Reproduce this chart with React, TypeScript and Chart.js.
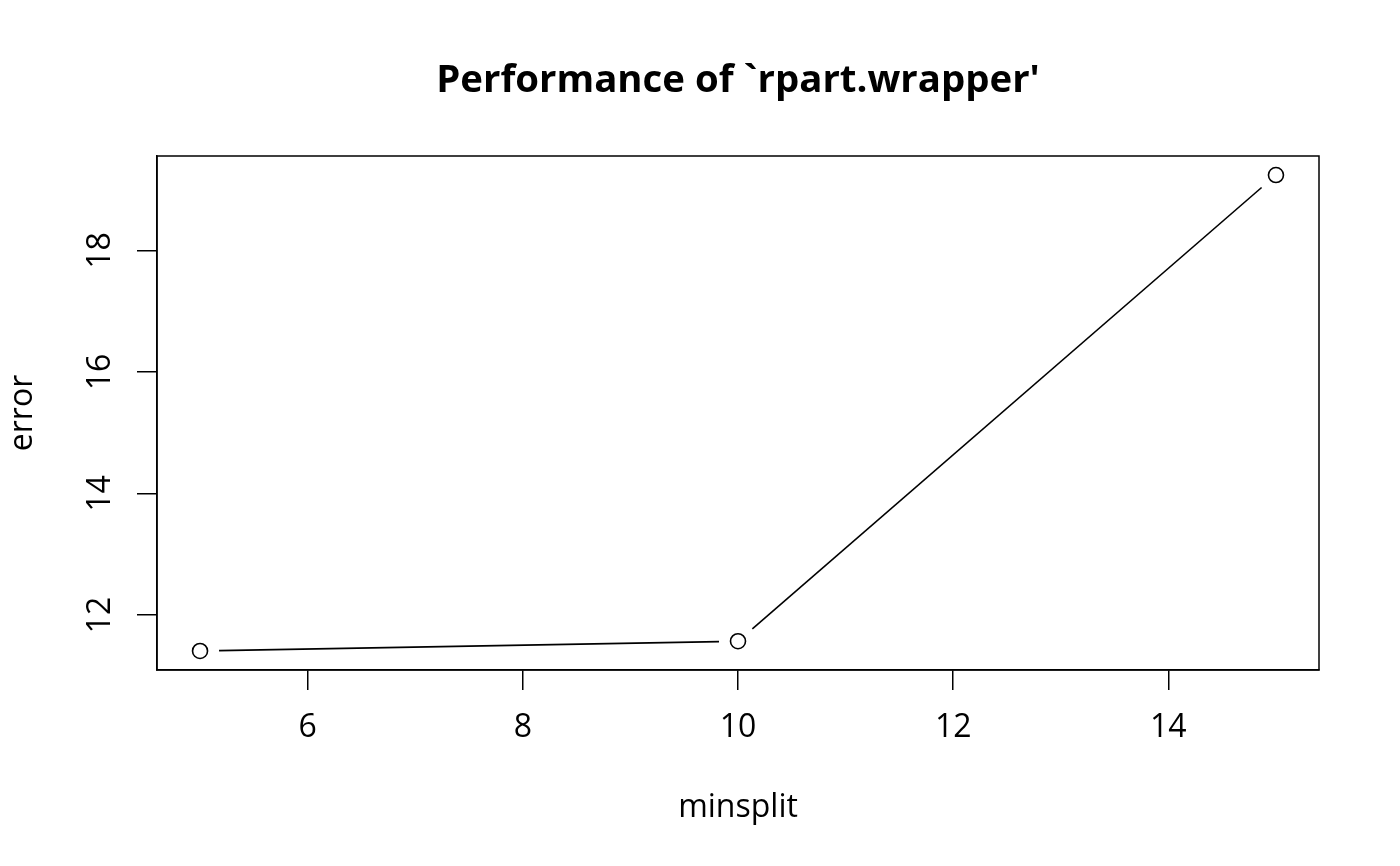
import React, { useEffect, useRef } from "react";
import { Chart, registerables } from "chart.js";

Chart.register(...registerables);

// Tuning results: error for each minsplit setting
const minsplit = [5, 10, 15];
const errorValues = [11.41, 11.57, 19.24];

const xTickValues = [6, 8, 10, 12, 14];
const yTickValues = [12, 14, 16, 18];

const titleText = "Performance of `rpart.wrapper'";
const xAxisLabel = "minsplit";
const yAxisLabel = "error";

const FONT = "'Open Sans', 'Noto Sans', sans-serif";

// Base-graphics style range: data range widened by 4% on each side
function paddedRange(values: number[]): [number, number] {
  const lo = Math.min(...values);
  const hi = Math.max(...values);
  const d = (hi - lo) * 0.04;
  return [lo - d, hi + d];
}

// Line segments between points that stop short of each marker (type "b")
const gappedLinePlugin = {
  id: "gappedLines",
  afterDatasetsDraw(chart: any) {
    const meta = chart.getDatasetMeta(0);
    const pts = meta.data;
    const gap = 19;
    const ctx = chart.ctx;
    ctx.save();
    ctx.strokeStyle = "#000";
    ctx.lineWidth = 1.6;
    for (let i = 0; i < pts.length - 1; i++) {
      const a = pts[i];
      const b = pts[i + 1];
      const dx = b.x - a.x;
      const dy = b.y - a.y;
      const len = Math.hypot(dx, dy);
      if (len <= 2 * gap) continue;
      const ux = dx / len;
      const uy = dy / len;
      ctx.beginPath();
      ctx.moveTo(a.x + ux * gap, a.y + uy * gap);
      ctx.lineTo(b.x - ux * gap, b.y - uy * gap);
      ctx.stroke();
    }
    ctx.restore();
  },
};

// Box around the plotting region plus title and axis titles
const frameAndTextPlugin = {
  id: "frameAndText",
  afterDraw(chart: any) {
    const { ctx, chartArea } = chart;
    const { left, right, top, bottom } = chartArea;
    const cx = (left + right) / 2;
    const cy = (top + bottom) / 2;
    ctx.save();
    ctx.strokeStyle = "#000";
    ctx.lineWidth = 1.5;
    ctx.strokeRect(left, top, right - left, bottom - top);

    ctx.fillStyle = "#000";
    ctx.textAlign = "center";
    ctx.textBaseline = "alphabetic";
    ctx.font = `bold 38.4px ${FONT}`;
    ctx.fillText(titleText, cx, 91.5);

    ctx.font = `32px ${FONT}`;
    ctx.fillText(xAxisLabel, cx, 816.5);

    ctx.translate(32, cy);
    ctx.rotate(-Math.PI / 2);
    ctx.fillText(yAxisLabel, 0, 0);
    ctx.restore();
  },
};

export default function App() {
  const canvasRef = useRef<HTMLCanvasElement | null>(null);

  useEffect(() => {
    if (!canvasRef.current) return;
    const [xMin, xMax] = paddedRange(minsplit);
    const [yMin, yMax] = paddedRange(errorValues);

    const axisCommon = {
      grid: {
        display: true,
        drawOnChartArea: false,
        drawTicks: true,
        tickLength: 20,
        color: "#000",
        lineWidth: 1.5,
      },
      border: { display: true, color: "#000", width: 1.5 },
    };

    const chart = new Chart(canvasRef.current, {
      type: "scatter",
      data: {
        datasets: [
          {
            data: minsplit.map((x, i) => ({ x, y: errorValues[i] })),
            showLine: false,
            pointStyle: "circle",
            pointRadius: 7.5,
            pointBorderWidth: 1.6,
            pointBorderColor: "#000",
            pointBackgroundColor: "rgba(0,0,0,0)",
          },
        ],
      },
      options: {
        responsive: false,
        animation: false,
        devicePixelRatio: 1,
        layout: { padding: { top: 156, right: 81, left: 0, bottom: 0 } },
        plugins: {
          legend: { display: false },
          tooltip: { enabled: false },
          title: { display: false },
        },
        scales: {
          x: {
            type: "linear",
            min: xMin,
            max: xMax,
            ...axisCommon,
            afterBuildTicks: (scale: any) => {
              scale.ticks = xTickValues.map((v) => ({ value: v }));
            },
            afterFit: (scale: any) => {
              scale.height = 196;
            },
            ticks: {
              color: "#000",
              font: { family: FONT, size: 32 },
              padding: 19,
              maxRotation: 0,
              minRotation: 0,
              callback: (v: any) => String(v),
            },
          },
          y: {
            type: "linear",
            min: yMin,
            max: yMax,
            ...axisCommon,
            afterBuildTicks: (scale: any) => {
              scale.ticks = yTickValues.map((v) => ({ value: v }));
            },
            afterFit: (scale: any) => {
              scale.width = 157;
            },
            ticks: {
              color: "#000",
              font: { family: FONT, size: 32 },
              padding: 18,
              minRotation: 90,
              maxRotation: 90,
              crossAlign: "center",
              callback: (v: any) => String(v),
            },
          },
        },
      },
      plugins: [gappedLinePlugin, frameAndTextPlugin],
    } as any);

    return () => chart.destroy();
  }, []);

  return (
    <div
      style={{
        position: "absolute",
        left: 0,
        top: 0,
        width: 1400,
        height: 866,
        background: "#fff",
      }}
    >
      <canvas
        ref={canvasRef}
        width={1400}
        height={866}
        style={{ width: 1400, height: 866, display: "block" }}
      />
    </div>
  );
}
